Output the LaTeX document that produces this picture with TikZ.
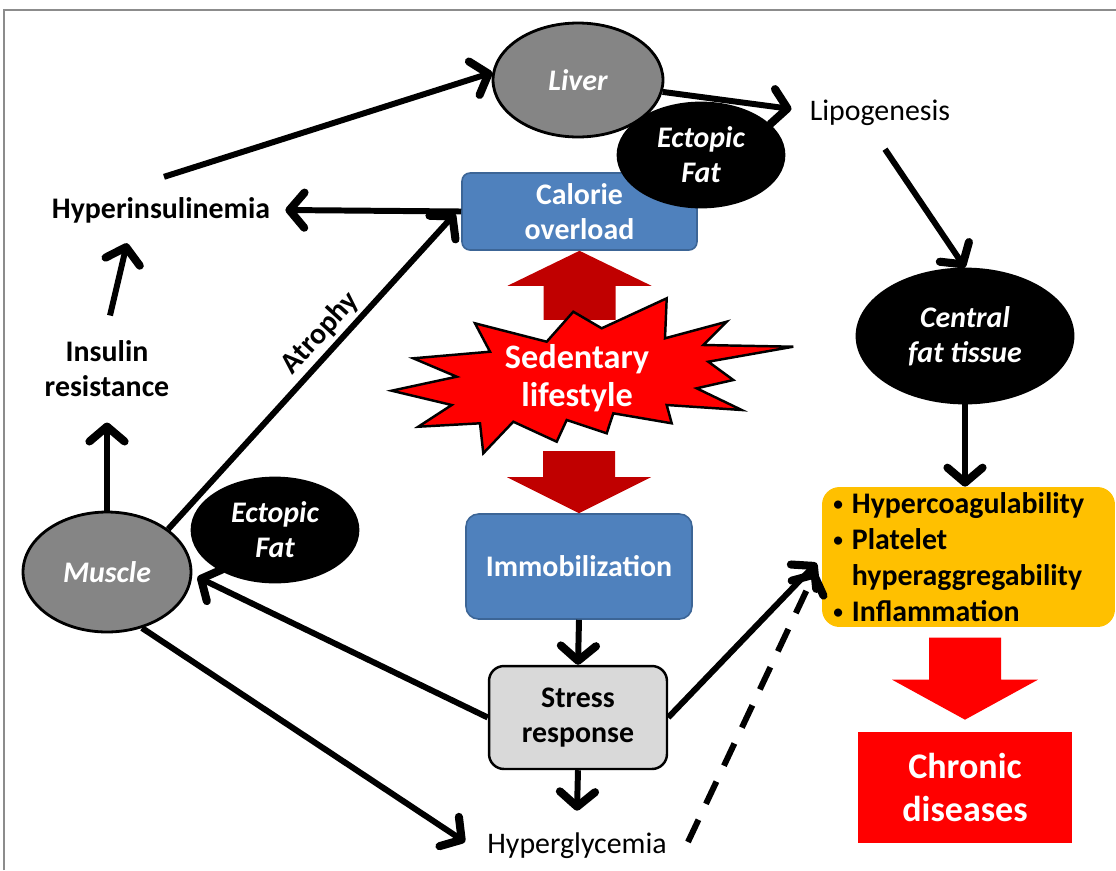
\documentclass[tikz,border=0pt]{standalone}
\usepackage{fontspec}
\setmainfont{Carlito}
\usetikzlibrary{shapes.geometric,arrows.meta,calc}

\definecolor{boxblue}{HTML}{4F81BD}
\definecolor{boxblueedge}{HTML}{3C6596}
\definecolor{organgray}{HTML}{858585}
\definecolor{stressgray}{HTML}{D9D9D9}
\definecolor{amber}{HTML}{FFC000}
\definecolor{deepred}{HTML}{C00000}
\definecolor{framegray}{HTML}{8C8C8C}

\newcommand{\labelsize}{\fontsize{17}{20}\selectfont}
\newcommand{\smallbullet}{{\fontsize{11}{11}\selectfont\raisebox{0.35ex}{•}}\hspace{0.3em}}

\begin{document}
\begin{tikzpicture}[x=0.02cm,y=-0.02cm,
  txt/.style={font=\labelsize, align=center, inner sep=0pt},
  txtb/.style={font=\labelsize\bfseries, align=center, inner sep=0pt},
  organ/.style={ellipse, draw=black, line width=1.6pt, fill=organgray,
    text=white, font=\labelsize\bfseries\itshape, align=center, inner sep=0pt},
  fatblob/.style={organ, fill=black},
  bluebox/.style={rectangle, rounded corners=0.25cm, draw=boxblueedge, line width=0.9pt,
    fill=boxblue, text=white, font=\labelsize\bfseries, align=center},
  arr/.style={line width=3.4pt, -{Straight Barb[length=8.5pt,width=20pt,line width=4.6pt,round]}},
  dasharr/.style={arr, dash pattern=on 14pt off 10pt}
]
\useasboundingbox (0,0) rectangle (1116,870);

% frame
\draw[framegray, line width=0.8pt] (4,870) -- (4,10) -- (1116,10);

% organs and boxes
\node[organ, minimum width=3.4cm, minimum height=2.28cm] (liver) at (578,80) {Liver};
\node[bluebox, minimum width=4.7cm, minimum height=1.54cm, rounded corners=0.16cm] (calorie) at (579.5,211.5) {Calorie\\overload};
\node[fatblob, minimum width=3.32cm, minimum height=2.08cm] (fattop) at (701,155) {Ectopic\\Fat};
\node[txt] (lipo) at (880,113) {Lipogenesis};
\node[txtb] (hyper) at (161,210) {Hyperinsulinemia};
\node[txtb] (insulin) at (107,369) {Insulin\\resistance};
\node[organ, minimum width=3.36cm, minimum height=2.4cm] (muscle) at (107,572) {Muscle};
\node[fatblob, minimum width=3.32cm, minimum height=2.08cm] (fatleft) at (275,530) {Ectopic\\Fat};
\node[bluebox, minimum width=4.52cm, minimum height=2.1cm] (immob) at (579,566.5) {Immobilization};
\node[rectangle, rounded corners=0.3cm, draw=black, line width=1.4pt, fill=stressgray,
  font=\labelsize\bfseries, align=center, minimum width=3.56cm, minimum height=2.06cm] (stress) at (578,717.5) {Stress\\response};
\node[txt] (hyperg) at (577,846) {Hyperglycemia};
\node[fatblob, minimum width=4.32cm, minimum height=2.68cm] (central) at (965,336) {Central\\fat tissue};
\node[rectangle, rounded corners=0.35cm, fill=amber, minimum width=5.86cm, minimum height=2.8cm] (yellow) at (968.5,557) {};
\node[anchor=west, font=\fontsize{17}{20.5}\selectfont\bfseries, align=left, inner sep=0pt] (effects) at (833,557)
  {\smallbullet Hypercoagulability\\\smallbullet Platelet\\\phantom{\smallbullet}hyperaggregability\\\smallbullet Inflammation};
\node[rectangle, fill=red, text=white, font=\fontsize{20.5}{24}\selectfont\bfseries, align=center,
  minimum width=4.28cm, minimum height=2.22cm] (chronic) at (965,787.5) {Chronic\\diseases};

% block arrows around the lifestyle burst
\fill[deepred] (calorie.south) -- ++(72,35) -- ++(-36,0) -- ++(0,34) -- ++(-72,0) -- ++(0,-34) -- ++(-36,0) -- cycle;
\fill[deepred] (immob.north) -- ++(72,-36) -- ++(-36,0) -- ++(0,-26) -- ++(-72,0) -- ++(0,26) -- ++(-36,0) -- cycle;
\fill[red] ([yshift=0.24cm]chronic.north) -- ++(73,-40) -- ++(-37,0) -- ++(0,-42) -- ++(-72,0) -- ++(0,42) -- ++(-37,0) -- cycle;

% sedentary lifestyle burst
\draw[fill=red, line width=1.4pt, line join=miter]
  (413.3,358.3) -- (490,351.7) -- (475,323.3) -- (546.7,341.7) -- (573.3,311.7) -- (601.7,328.3)
  -- (666.7,298.3) -- (665,338.3) -- (726.7,321.7) -- (703.3,345) -- (793.3,346.7) -- (708.3,361.7)
  -- (733.3,380) -- (696.7,388.3) -- (741.7,410) -- (666.7,405) -- (671.7,423.3) -- (613.3,413.3)
  -- (606.7,433.3) -- (566.7,420) -- (556.7,441.7) -- (513.3,421.7) -- (483.3,453.3) -- (480,423.3)
  -- (418.3,426.7) -- (451.7,405) -- (391.7,390.7) -- (456.7,376.7) -- cycle;
\node[font=\fontsize{19.5}{21.5}\selectfont\bfseries, text=white, align=center, inner sep=0pt] (sed) at (577,378) {Sedentary\\lifestyle};

% connectors
\draw[arr] ([xshift=0.06cm,yshift=0.4cm]hyper.north) -- (liver.175);
\draw[arr] (liver.-8) -- ([xshift=-0.36cm,yshift=0.08cm]lipo.west);
\draw[arr] (calorie.west) -- ([xshift=0.3cm]hyper.east);
\draw[arr] ([xshift=0.06cm,yshift=0.5cm]insulin.north) -- ([xshift=-0.68cm,yshift=-0.4cm]hyper.south);
\draw[arr] (muscle.north) -- ([yshift=-0.5cm]insulin.south);
\draw[arr] (muscle.35) -- node[pos=0.58, sloped, above=2pt, txtb] {Atrophy} ([xshift=-0.12cm,yshift=-0.04cm]calorie.west);
\draw[arr] (stress.west) -- ([xshift=0.1cm,yshift=-0.1cm]muscle.east);
\draw[arr] (muscle.-58) -- ([xshift=-0.44cm,yshift=0.08cm]hyperg.west);
\draw[arr] (immob.south) -- (stress.north);
\draw[arr] (stress.south) -- ([yshift=0.44cm]hyperg.north);
\draw[arr] (stress.east) -- ([xshift=-0.1cm,yshift=-0.12cm]yellow.west);
\draw[dasharr] ([xshift=0.42cm,yshift=0.08cm]hyperg.east) -- ([xshift=-0.12cm,yshift=-0.28cm]yellow.west);
\draw[arr] ([xshift=0.1cm,yshift=-0.46cm]lipo.south) -- (central.north);
\draw[arr] (central.south) -- (central.south |- yellow.north);
\end{tikzpicture}
\end{document}
